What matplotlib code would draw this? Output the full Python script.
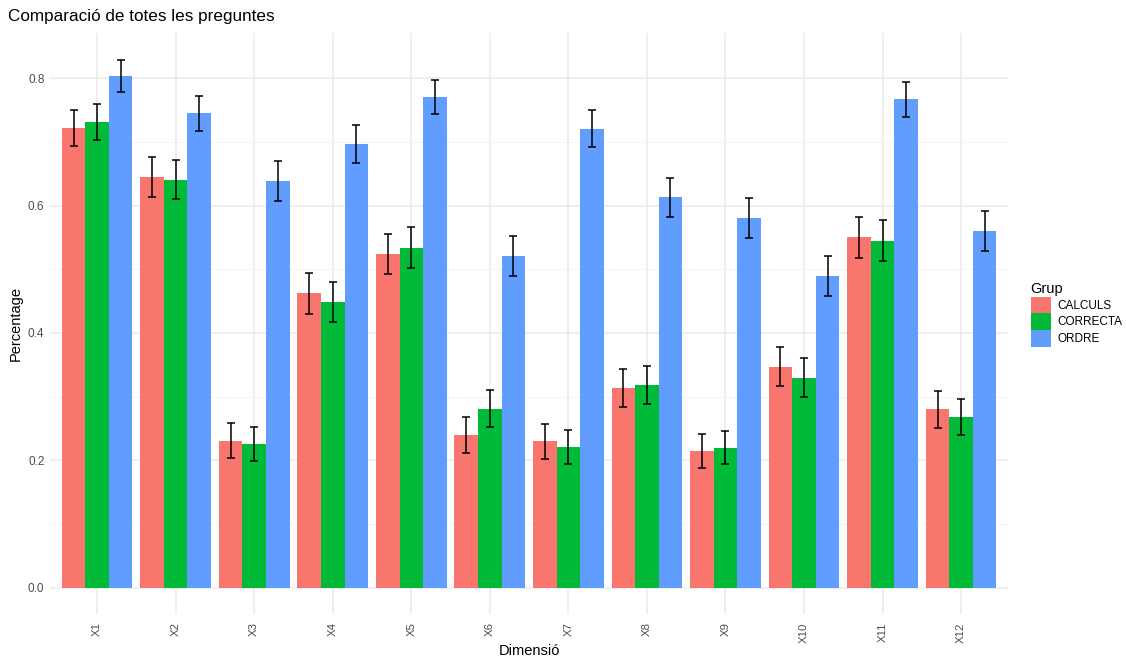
import numpy as np
import matplotlib
matplotlib.use("Agg")
import matplotlib.pyplot as plt
from matplotlib.patches import Patch
from matplotlib.ticker import MultipleLocator

plt.rcParams['font.family'] = ['Liberation Sans', 'DejaVu Sans']

# Dades llegides del gràfic
dimensions = ['X1', 'X2', 'X3', 'X4', 'X5', 'X6', 'X7', 'X8', 'X9', 'X10', 'X11', 'X12']
grups = ['CALCULS', 'CORRECTA', 'ORDRE']
colors = ['#F8766D', '#00BA38', '#619CFF']

calculs = [0.722, 0.645, 0.231, 0.462, 0.524, 0.240, 0.230, 0.314, 0.214, 0.347, 0.550, 0.280]
correcta = [0.731, 0.641, 0.226, 0.449, 0.534, 0.281, 0.221, 0.318, 0.220, 0.330, 0.545, 0.268]
ordre = [0.804, 0.745, 0.639, 0.697, 0.771, 0.521, 0.721, 0.613, 0.581, 0.489, 0.767, 0.560]

se_calculs = [0.029, 0.031, 0.0275, 0.032, 0.032, 0.028, 0.0275, 0.030, 0.0265, 0.031, 0.032, 0.029]
se_correcta = [0.0285, 0.031, 0.027, 0.0315, 0.0325, 0.029, 0.0265, 0.030, 0.0265, 0.030, 0.032, 0.028]
se_ordre = [0.0255, 0.028, 0.031, 0.0295, 0.027, 0.032, 0.0285, 0.031, 0.0315, 0.0315, 0.027, 0.0315]

valors = [calculs, correcta, ordre]
errors = [se_calculs, se_correcta, se_ordre]

fig = plt.figure(figsize=(11.26, 6.57), dpi=100)
ax = fig.add_axes([0.0444, 0.0655, 0.851, 0.885])

x = np.arange(len(dimensions))
amplada = 0.3
for i, (vals, err) in enumerate(zip(valors, errors)):
    pos = x + (i - 1) * amplada
    ax.bar(pos, vals, width=amplada, color=colors[i], zorder=2)
    ax.errorbar(pos, vals, yerr=err, fmt='none', ecolor='black',
                elinewidth=1.1, capsize=3.2, capthick=1.1, zorder=3)

ax.set_xlim(-0.6, len(dimensions) - 0.4)
ax.set_ylim(-0.0415, 0.872)
ax.set_xticks(x)
ax.set_xticklabels(dimensions, rotation=90, fontsize=8.2, color='#4D4D4D')
ax.yaxis.set_major_locator(MultipleLocator(0.2))
ax.yaxis.set_minor_locator(MultipleLocator(0.1))
ax.set_yticks([0.0, 0.2, 0.4, 0.6, 0.8])
ax.set_yticklabels(['0.0', '0.2', '0.4', '0.6', '0.8'], fontsize=8.5, color='#4D4D4D')
ax.tick_params(axis='x', which='both', length=0, pad=6)
ax.tick_params(axis='y', which='both', length=0, pad=4)

ax.grid(True, which='major', color='#EBEBEB', linewidth=1.1, zorder=0)
ax.grid(True, which='minor', axis='y', color='#F3F3F3', linewidth=0.6, zorder=0)
ax.set_axisbelow(True)
for s in ax.spines.values():
    s.set_visible(False)

ax.set_xlabel('Dimensió', fontsize=10.5, labelpad=1)
ax.set_ylabel('Percentage', fontsize=10.5, labelpad=4)
fig.text(0.007, 0.975, 'Comparació de totes les preguntes', fontsize=12.3, va='center', ha='left')

handles = [Patch(facecolor=c, edgecolor='none', label=g) for c, g in zip(colors, grups)]
fig.legend(handles=handles, title='Grup', loc='upper left', bbox_to_anchor=(0.911, 0.578),
           frameon=False, fontsize=8.5, title_fontsize=10.5, handlelength=1.75, handleheight=1.75,
           handletextpad=0.55, labelspacing=0.05, alignment='left', borderaxespad=0)

fig.savefig('out.png', dpi=100, facecolor='white')
